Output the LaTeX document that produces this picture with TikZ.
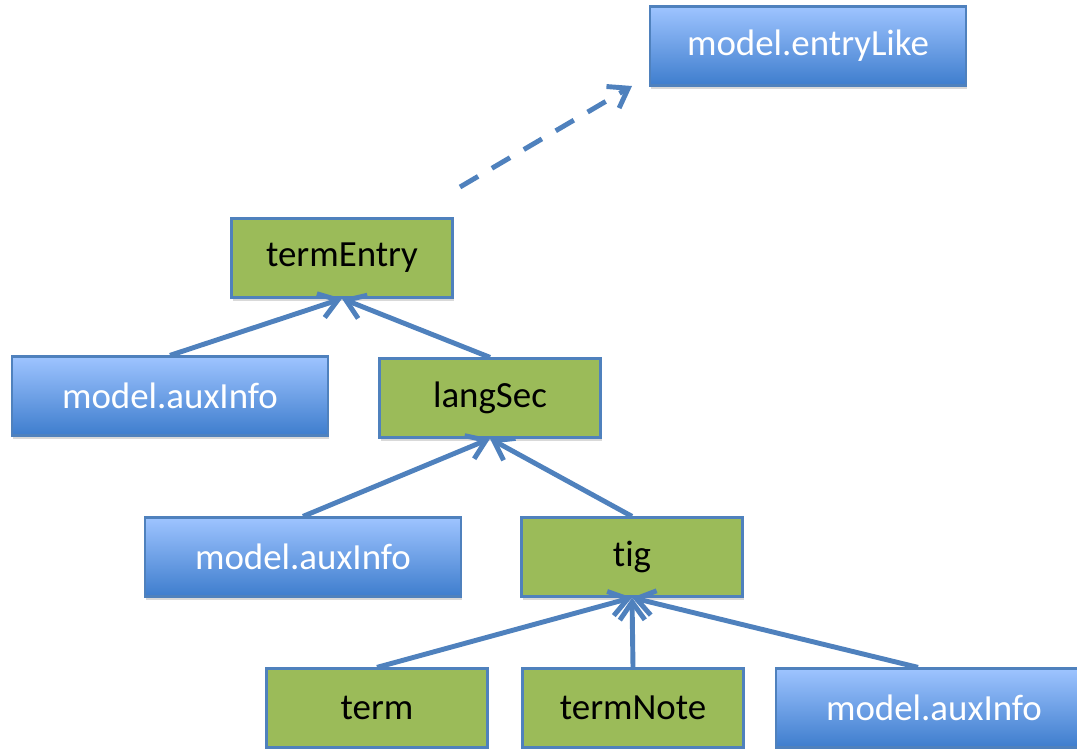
\documentclass[tikz,border=0pt]{standalone}
\usepackage{fontspec}
\setmainfont[Ligatures=NoCommon]{Carlito}
\usetikzlibrary{arrows.meta,shadows}
\definecolor{edgeblue}{RGB}{79,129,189}
\definecolor{leafgreen}{RGB}{155,187,89}
\definecolor{modeltop}{RGB}{158,196,255}
\definecolor{modelbottom}{RGB}{62,125,205}
\begin{document}
\begin{tikzpicture}[x=0.02cm, y=0.02cm]
\tikzstyle{every node}+=[inner sep=0pt, font=\fontsize{21}{25}\selectfont]
\tikzstyle{elem}=[draw=edgeblue, line width=1.3pt, fill=leafgreen, text=black,
  minimum width=4.42cm, minimum height=1.58cm,
  drop shadow={shadow xshift=0.8pt, shadow yshift=-1.8pt, opacity=0.3}]
\tikzstyle{modelbox}=[elem, top color=modeltop, bottom color=modelbottom, text=white,
  minimum width=6.32cm]
\tikzstyle{link}=[draw=edgeblue, line width=2.8pt, -{Straight Barb[length=0.36cm, width=0.5cm]}]
\useasboundingbox (0,0) rectangle (1077,-748);
% boxes
\node [modelbox] (entrylike) at (808,-46) {model.entryLike};
\node [elem] (termentry) at (342,-258) {termEntry};
\node [modelbox] (auxa) at (170,-396) {model.auxInfo};
\node [elem] (langsec) at (490,-398) {langSec};
\node [modelbox] (auxb) at (303,-557) {model.auxInfo};
\node [elem] (tig) at (632,-557) {tig};
\node [elem] (term) at (377,-708) {term};
\node [elem] (termnote) at (633,-708) {termNote};
\node [modelbox] (auxc) at (934,-708) {model.auxInfo};
% dashed link to the class
\coordinate (dashstart) at (460,-187);
\coordinate (dashend) at (632,-86);
\draw [link, dash pattern=on 0.42cm off 0.32cm] (dashstart) -- (dashend);
% tree links
\draw [link] (auxa.north) -- (termentry.south);
\draw [link] (langsec.north) -- (termentry.south);
\draw [link] (auxb.north) -- (langsec.south);
\draw [link] (tig.north) -- (langsec.south);
\draw [link] (term.north) -- (tig.south);
\draw [link] (termnote.north) -- (tig.south);
\draw [link] ([xshift=-0.32cm]auxc.north) -- (tig.south);
\end{tikzpicture}
\end{document}
